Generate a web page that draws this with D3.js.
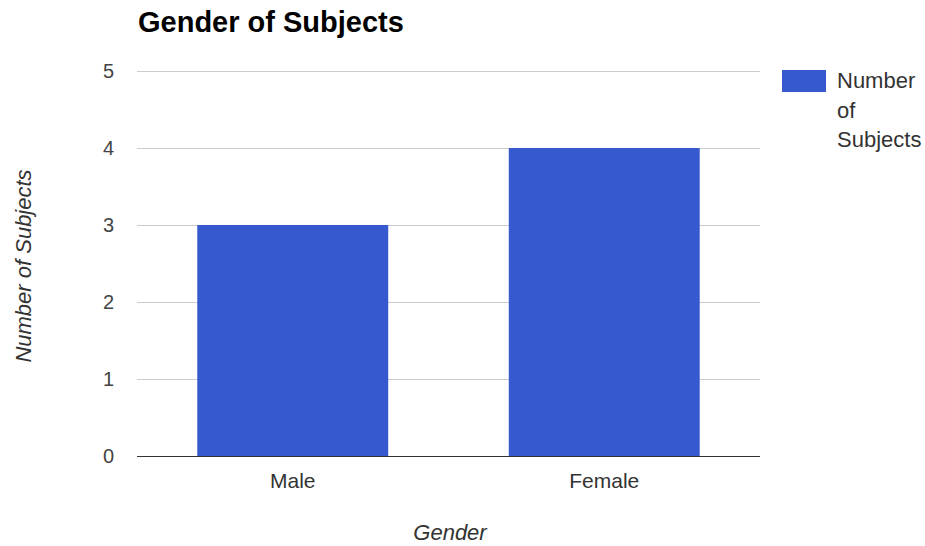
<!DOCTYPE html>
<html>
<head>
<meta charset="utf-8">
<script src="https://cdn.jsdelivr.net/npm/d3@7"></script>
<style>
  body { margin: 0; background: #fff; }
  text { font-family: "Liberation Sans", Arial, sans-serif; }
</style>
</head>
<body>
<svg id="drawing_region"></svg>
<script>
const categories = ['Male', 'Female'];
const subjects = [3, 4];
const yTicks = [0, 1, 2, 3, 4, 5];
const legendLines = ['Number', 'of', 'Subjects'];

const width = 925, height = 546;
const margin = {top: 71, right: 165, bottom: 90, left: 137};
const inner_width = width - margin.left - margin.right;
const inner_height = height - margin.top - margin.bottom;

const svg = d3.select('#drawing_region')
    .attr('width', width)
    .attr('height', height);

const chart = svg.append('g')
    .attr('transform', `translate(${margin.left}, ${margin.top})`);

const xscale = d3.scaleBand()
    .domain(categories)
    .range([0, inner_width])
    .paddingInner(0.387)
    .paddingOuter(0.1935);

const yscale = d3.scaleLinear()
    .domain([0, 5])
    .range([inner_height, 0]);

// gridlines
chart.selectAll('.grid').data(yTicks.filter(d => d > 0)).enter()
    .append('line')
    .attr('x1', 0)
    .attr('x2', inner_width)
    .attr('y1', d => yscale(d) + 0.5)
    .attr('y2', d => yscale(d) + 0.5)
    .attr('stroke', '#cccccc');

// bars
chart.selectAll('rect').data(subjects).enter()
    .append('rect')
    .attr('x', (d, i) => xscale(categories[i]))
    .attr('y', d => yscale(d))
    .attr('width', xscale.bandwidth())
    .attr('height', d => inner_height - yscale(d))
    .attr('fill', '#3659cd');

// baseline
chart.append('line')
    .attr('x1', 0)
    .attr('x2', inner_width)
    .attr('y1', inner_height + 0.5)
    .attr('y2', inner_height + 0.5)
    .attr('stroke', '#333333');

// y axis labels
const yaxis = d3.axisLeft(yscale)
    .tickValues(yTicks)
    .tickFormat(d3.format('d'))
    .tickSize(0)
    .tickPadding(23);
const yaxis_group = chart.append('g').call(yaxis);
yaxis_group.select('.domain').remove();
yaxis_group.selectAll('text')
    .attr('font-size', 20)
    .attr('fill', '#444')
    .attr('font-family', '"Liberation Sans", Arial, sans-serif');

// x axis labels
const xaxis = d3.axisBottom(xscale)
    .tickSize(0)
    .tickPadding(17);
const xaxis_group = chart.append('g')
    .attr('transform', `translate(0, ${inner_height})`)
    .call(xaxis);
xaxis_group.select('.domain').remove();
xaxis_group.selectAll('text')
    .attr('font-size', 21)
    .attr('fill', '#333')
    .attr('font-family', '"Liberation Sans", Arial, sans-serif');

// title
svg.append('text')
    .attr('x', 138)
    .attr('y', 32)
    .attr('font-size', 29)
    .attr('font-weight', 'bold')
    .attr('fill', '#000')
    .text('Gender of Subjects');

// axis titles
svg.append('text')
    .attr('transform', 'translate(31, 266) rotate(-90)')
    .attr('text-anchor', 'middle')
    .attr('font-size', 22)
    .attr('font-style', 'italic')
    .attr('fill', '#333')
    .text('Number of Subjects');

svg.append('text')
    .attr('x', 450)
    .attr('y', 540)
    .attr('text-anchor', 'middle')
    .attr('font-size', 22)
    .attr('font-style', 'italic')
    .attr('fill', '#333')
    .text('Gender');

// legend
const legend = svg.append('g').attr('transform', 'translate(782, 70)');
legend.append('rect')
    .attr('width', 44)
    .attr('height', 22)
    .attr('fill', '#3659cd');
legend.selectAll('.lg').data(legendLines).enter()
    .append('text')
    .attr('x', 55)
    .attr('y', (d, i) => 18 + i * 29.5)
    .attr('font-size', 22)
    .attr('fill', '#333')
    .text(d => d);
</script>
</body>
</html>
